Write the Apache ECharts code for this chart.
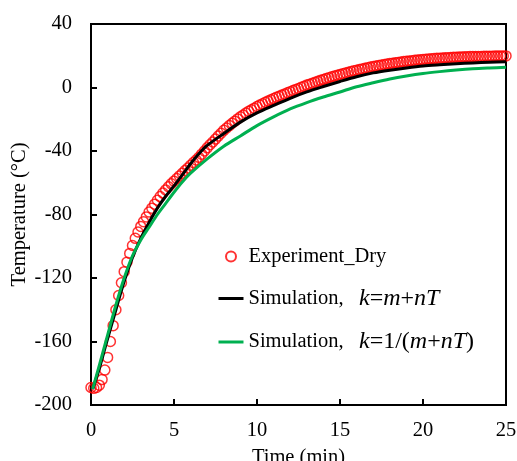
<!DOCTYPE html>
<html>
<head>
<meta charset="utf-8">
<script src="https://cdn.jsdelivr.net/npm/echarts@6/dist/echarts.min.js"></script>
<style>html,body{margin:0;padding:0;background:#fff}#c{width:517px;height:461px}</style>
</head>
<body>
<div id="c"></div>
<script>
// Experiment: one reading every 10 s (1/6 min) from 0 to 25 min, one row per minute
var expStepMin = 10 / 60;
var expTemp = [
 -189, -189.5, -189, -187.5, -184, -178,
 -170, -160, -150, -140, -131, -123,
 -116, -110, -104.5, -99.5, -95, -91,
 -87.5, -84.5, -81.5, -78.5, -76, -73.5,
 -71, -68.7, -66.5, -64.5, -62.5, -60.7,
 -59, -57.3, -55.7, -54, -52.3, -50.7,
 -49, -47.3, -45.7, -44, -42, -40,
 -38, -36.1, -34.3, -32.5, -30.6, -28.8,
 -27, -25.5, -24, -22.5, -21.2, -19.8,
 -18.5, -17.3, -16.1, -15, -14, -13,
 -12, -11.1, -10.2, -9.3, -8.5, -7.7,
 -7, -6.2, -5.5, -4.8, -4.1, -3.3,
 -2.6, -1.9, -1.2, -0.6, 0.1, 0.8,
 1.5, 2.1, 2.7, 3.3, 3.9, 4.5,
 5, 5.6, 6.2, 6.7, 7.2, 7.7,
 8.2, 8.7, 9.2, 9.6, 10.1, 10.5,
 10.9, 11.3, 11.7, 12.1, 12.5, 12.9,
 13.2, 13.5, 13.9, 14.2, 14.5, 14.8,
 15.1, 15.3, 15.6, 15.8, 16.1, 16.3,
 16.5, 16.7, 16.9, 17.1, 17.3, 17.5,
 17.6, 17.8, 17.9, 18.1, 18.2, 18.4,
 18.5, 18.6, 18.7, 18.8, 18.9, 19,
 19.1, 19.2, 19.25, 19.3, 19.4, 19.45,
 19.5, 19.55, 19.6, 19.6, 19.65, 19.7,
 19.7, 19.75, 19.8, 19.8, 19.85, 19.9,
 19.9
];
// Simulation k = m + nT
var simATime = [0.1, 0.5, 0.9, 1.5, 2, 2.5, 3, 3.5, 4, 4.5, 5, 5.5, 6, 6.5, 7, 8, 9, 10, 11, 12, 13, 14, 15, 16, 17, 18, 19, 20, 21, 22, 23, 24, 25];
var simATemp = [-190, -177, -162, -140, -122, -107, -95, -85, -76, -68.5, -62, -55, -48, -41.8, -36.5, -29, -21.8, -16, -11.3, -6.8, -2.8, 0.6, 3.8, 6.8, 9.2, 10.9, 12.3, 13.5, 14.3, 15, 15.5, 15.9, 16.2];
// Simulation k = 1/(m + nT)
var simBTime = [0.1, 0.5, 1, 1.5, 2, 2.5, 3, 3.5, 4, 4.5, 5, 5.5, 6, 7, 8, 9, 10, 11, 12, 13, 14, 15, 16, 17, 18, 19, 20, 21, 22, 23, 24, 25];
var simBTemp = [-190, -175, -156, -137, -120, -106, -96, -88, -80, -73, -66, -59.5, -54, -45, -37, -30.5, -24, -18.5, -13.5, -9.5, -6, -2.8, 0.5, 3, 5.3, 7.2, 8.8, 10, 11, 11.8, 12.3, 12.7];

var xTicks = {min: 0, max: 25, interval: 5};
var yTicks = {min: -200, max: 40, interval: 40};

var expData = expTemp.map(function (v, i) { return [i * expStepMin, v]; });
var simAData = simATime.map(function (t, i) { return [t, simATemp[i]]; });
var simBData = simBTime.map(function (t, i) { return [t, simBTemp[i]]; });

var font = 'Liberation Serif';
var fs = 20.5;
var chart = echarts.init(document.getElementById('c'), null, {renderer: 'canvas'});
var rich = {
  n: {fontFamily: font, fontSize: fs, color: '#000', lineHeight: 24},
  f: {fontFamily: font, fontSize: 24, color: '#000', lineHeight: 24},
  i: {fontFamily: font, fontSize: 24, color: '#000', fontStyle: 'italic', lineHeight: 24}
};
chart.setOption({
  animation: false,
  backgroundColor: '#fff',
  grid: {left: 91, right: 11, top: 24, bottom: 56, outerBoundsMode: 'none', containLabel: false,
         show: true, borderColor: '#000', borderWidth: 2, backgroundColor: 'transparent'},
  xAxis: {
    type: 'value', min: xTicks.min, max: xTicks.max, interval: xTicks.interval,
    name: 'Time (min)', nameLocation: 'middle', nameGap: 42,
    nameTextStyle: {fontFamily: font, fontSize: fs, color: '#000'},
    axisLine: {onZero: false, lineStyle: {color: '#000', width: 2}},
    axisTick: {inside: true, length: 6, lineStyle: {color: '#000', width: 2}},
    axisLabel: {fontFamily: font, fontSize: fs, color: '#000', margin: 15},
    splitLine: {show: false}
  },
  yAxis: {
    type: 'value', min: yTicks.min, max: yTicks.max, interval: yTicks.interval,
    name: 'Temperature (°C)', nameLocation: 'middle', nameGap: 61, nameMoveOverlap: false,
    nameTextStyle: {fontFamily: font, fontSize: fs, color: '#000'},
    axisLine: {onZero: false, lineStyle: {color: '#000', width: 2}},
    axisTick: {inside: true, length: 6, lineStyle: {color: '#000', width: 2}},
    axisLabel: {fontFamily: font, fontSize: fs, color: '#000', margin: 19},
    splitLine: {show: false}
  },
  legend: {
    orient: 'vertical', left: 217, top: 246, itemGap: 19.5, padding: 0,
    itemWidth: 25, itemHeight: 10,
    textStyle: {fontFamily: font, fontSize: fs, color: '#000', rich: rich},
    formatter: function (name) {
      if (name === 'Experiment_Dry') return '{n|Experiment_Dry}';
      if (name === 'A') return '{n|Simulation,   }{i|k}{f|=}{i|m}{f|+}{i|nT}';
      return '{n|Simulation,   }{i|k}{f|=1/(}{i|m}{f|+}{i|nT}{f|)}';
    },
    data: [
      {name: 'Experiment_Dry', icon: 'circle', itemStyle: {color: '#fff', borderColor: '#ff0000', borderWidth: 2}},
      {name: 'A', itemStyle: {opacity: 0}, lineStyle: {color: '#000', width: 3}},
      {name: 'B', itemStyle: {opacity: 0}, lineStyle: {color: '#00b050', width: 3}}
    ]
  },
  series: [
    {name: 'Experiment_Dry', type: 'scatter', data: expData, symbol: 'circle', symbolSize: 10,
     itemStyle: {color: 'rgba(255,255,255,0)', borderColor: '#ff0000', borderWidth: 1.5}},
    {name: 'A', type: 'line', data: simAData, showSymbol: false, symbol: 'none', smooth: 0.3,
     lineStyle: {color: '#000', width: 3}, itemStyle: {color: '#000'}},
    {name: 'B', type: 'line', data: simBData, showSymbol: false, symbol: 'none', smooth: 0.3,
     lineStyle: {color: '#00b050', width: 3}, itemStyle: {color: '#00b050'}}
  ]
});
</script>
</body>
</html>
